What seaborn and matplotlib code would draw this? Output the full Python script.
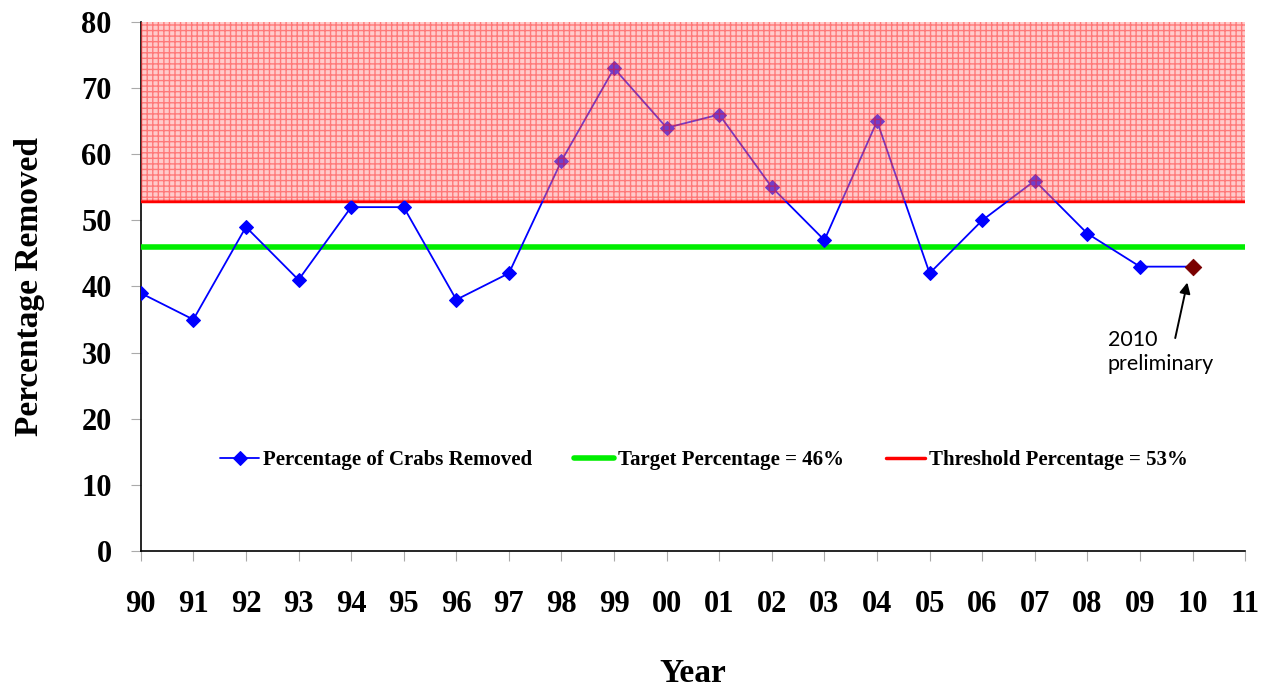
import pandas as pd
import seaborn as sns
import matplotlib.pyplot as plt

# Year labels on the x axis (two-digit)
year_labels = ['90', '91', '92', '93', '94', '95', '96', '97', '98', '99', '00',
               '01', '02', '03', '04', '05', '06', '07', '08', '09', '10', '11']
# Percentage of crabs removed, 1990-2010 (2010 preliminary)
pct_removed = [39, 35, 49, 41, 52, 52, 38, 42, 59, 73, 64,
               66, 55, 47, 65, 42, 50, 56, 48, 43, 43]
target_pct = 46
threshold_pct = 53

df = pd.DataFrame({'pos': range(len(pct_removed)), 'pct': pct_removed})

sns.set_style('ticks')
plt.rcParams['font.family'] = ['Liberation Serif', 'DejaVu Serif']
plt.rcParams['text.color'] = 'black'
plt.rcParams['axes.labelcolor'] = 'black'

fig = plt.figure(figsize=(12.68, 6.87), dpi=100)
ax = fig.add_axes([0.111, 0.198, 0.871, 0.770])

# line + diamonds
sns.lineplot(data=df, x='pos', y='pct', ax=ax, color='#0000ff', lw=1.3,
             marker='D', markersize=7, markeredgecolor='#0000ff',
             label='Percentage of Crabs Removed', zorder=4)
# preliminary 2010 point
sns.scatterplot(data=df.tail(1), x='pos', y='pct', ax=ax, color='#7a0000',
                marker='D', s=70, edgecolor='#7a0000', zorder=5, legend=False)

ax.axhline(target_pct, color='#00ee00', lw=4, zorder=3,
           label='Target Percentage = 46%')
ax.axhline(threshold_pct, color='#ff0000', lw=2.5, zorder=3,
           label='Threshold Percentage = 53%')

# shaded area above threshold
ax.axhspan(threshold_pct, 80, facecolor=(1, 0.55, 0.55, 0.45),
           edgecolor=(1, 0, 0, 0.4), hatch='+++', lw=0, zorder=6)

ax.text(18.39, 30.1, '2010\npreliminary', ha='left', va='center',
        fontsize=15.5, family='Lato', linespacing=1.25)
ax.annotate('', xy=(19.9, 40.6), xytext=(19.67, 32.2),
            arrowprops=dict(arrowstyle='-|>', color='black', lw=1.4,
                            shrinkA=0, shrinkB=0, mutation_scale=16))

ax.set_xlim(0, 21)
ax.set_ylim(0, 80)
ax.set_xticks(range(len(year_labels)))
ax.set_xticklabels(year_labels)
ax.set_yticks(range(0, 81, 10))
ax.tick_params(axis='x', length=7, color='#aaaaaa', labelcolor='black',
               pad=21, labelsize=22)
ax.tick_params(axis='y', length=7, color='#aaaaaa', labelcolor='black',
               pad=14, labelsize=22)
for lab in ax.get_xticklabels() + ax.get_yticklabels():
    lab.set_fontweight('bold')

ax.set_xlabel('Year', fontsize=24, fontweight='bold', labelpad=28)
ax.set_ylabel('Percentage Removed', fontsize=24, fontweight='bold', labelpad=26)

for s in ['top', 'right']:
    ax.spines[s].set_visible(False)
for s in ['left', 'bottom']:
    ax.spines[s].set_color('black')
    ax.spines[s].set_linewidth(1.2)

leg = ax.legend(loc='center', bbox_to_anchor=(0.51, 0.172), ncol=3,
                frameon=False, prop={'weight': 'bold', 'size': 15},
                handlelength=1.9, columnspacing=2.0, handletextpad=0.2)
for t in leg.get_texts():
    t.set_color('black')

plt.savefig('out.png', dpi=100)
plt.close()
